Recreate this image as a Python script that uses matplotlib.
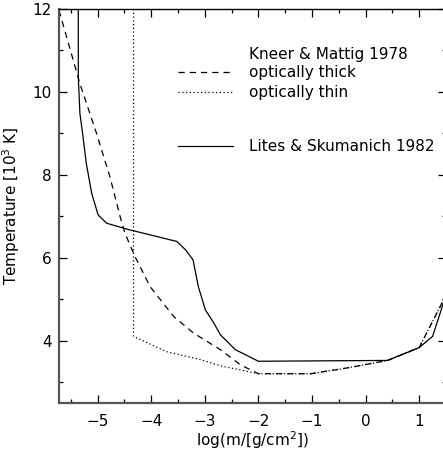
import matplotlib
matplotlib.use("Agg")
import matplotlib.pyplot as plt
from matplotlib.ticker import MultipleLocator

# Lites & Skumanich 1982 temperature model
ls_logm = [-5.36, -5.36, -5.33, -5.28, -5.21, -5.11, -4.99, -4.83, -4.43,
           -4.02, -3.52, -3.36, -3.22, -3.12, -2.99, -2.83, -2.71, -2.43,
           -2.00, 0.41, 1.00, 1.25, 1.47]
ls_temp = [12.0, 10.36, 9.48, 9.00, 8.27, 7.55, 7.03, 6.83, 6.68,
           6.55, 6.39, 6.19, 5.95, 5.30, 4.74, 4.42, 4.14, 3.78,
           3.50, 3.52, 3.83, 4.10, 4.98]

# Kneer & Mattig 1978, optically thick
thick_logm = [-5.72, -5.33, -5.02, -4.77, -4.58, -4.49, -4.30, -4.02, -3.58,
              -3.21, -2.71, -2.33, -2.00, -1.02, -0.34, 0.41, 1.00, 1.47]
thick_temp = [11.97, 10.20, 9.00, 7.95, 6.99, 6.59, 6.02, 5.30, 4.58,
              4.18, 3.78, 3.41, 3.20, 3.20, 3.34, 3.52, 3.83, 5.02]

# Kneer & Mattig 1978, optically thin
thin_logm = [-4.33, -4.33, -3.71, -3.08, -2.71, -2.00, -1.02, -0.34, 0.41,
             1.00, 1.47]
thin_temp = [12.0, 4.10, 3.73, 3.54, 3.39, 3.20, 3.20, 3.34, 3.52,
             3.83, 5.02]

W, H = 443, 450
fig = plt.figure(figsize=(W / 100, H / 100), dpi=100)
ax = fig.add_axes([59 / W, (H - 402.7) / H, (446 - 59) / W, (402.7 - 9) / H])

lw = 0.9
ax.plot(ls_logm, ls_temp, color="black", lw=lw, ls="-")
ax.plot(thick_logm, thick_temp, color="black", lw=lw, ls=(0, (5, 4)))
ax.plot(thin_logm, thin_temp, color="black", lw=lw, ls=(0, (1, 2)))

ax.set_xlim(-5.72, 1.5)
ax.set_ylim(2.5, 12)
ax.xaxis.set_major_locator(MultipleLocator(1))
ax.xaxis.set_minor_locator(MultipleLocator(0.5))
ax.yaxis.set_major_locator(MultipleLocator(2))
ax.yaxis.set_minor_locator(MultipleLocator(1))
ax.tick_params(which="both", direction="in", top=True, right=True,
               labelsize=11, width=0.9)
ax.tick_params(axis="x", pad=8)
ax.tick_params(axis="y", pad=5)
ax.tick_params(which="major", length=6)
ax.tick_params(which="minor", length=3)
for s in ax.spines.values():
    s.set_linewidth(1.0)
ax.spines["left"].set_color("#555555")
ax.spines["bottom"].set_color("#555555")
ax.spines["left"].set_linewidth(1.6)
ax.spines["bottom"].set_linewidth(1.6)

ax.set_xlabel("log(m/[g/cm$^2$])", fontsize=11, labelpad=0)
ax.set_ylabel("Temperature [10$^3$ K]", fontsize=11, labelpad=8)

# legend drawn by hand in data coordinates
lx0, lx1 = -3.50, -2.47
tx = -2.18
ax.text(tx, 10.91, "Kneer & Mattig 1978", fontsize=11, va="center")
ax.plot([lx0, lx1], [10.47, 10.47], color="black", lw=lw, ls=(0, (5, 4)))
ax.text(tx, 10.47, "optically thick", fontsize=11, va="center")
ax.plot([lx0, lx1], [9.99, 9.99], color="black", lw=lw, ls=(0, (1, 2)))
ax.text(tx, 9.99, "optically thin", fontsize=11, va="center")
ax.plot([lx0, lx1], [8.69, 8.69], color="black", lw=lw, ls="-")
ax.text(tx, 8.69, "Lites & Skumanich 1982", fontsize=11, va="center")

fig.savefig("out.png", dpi=100)
